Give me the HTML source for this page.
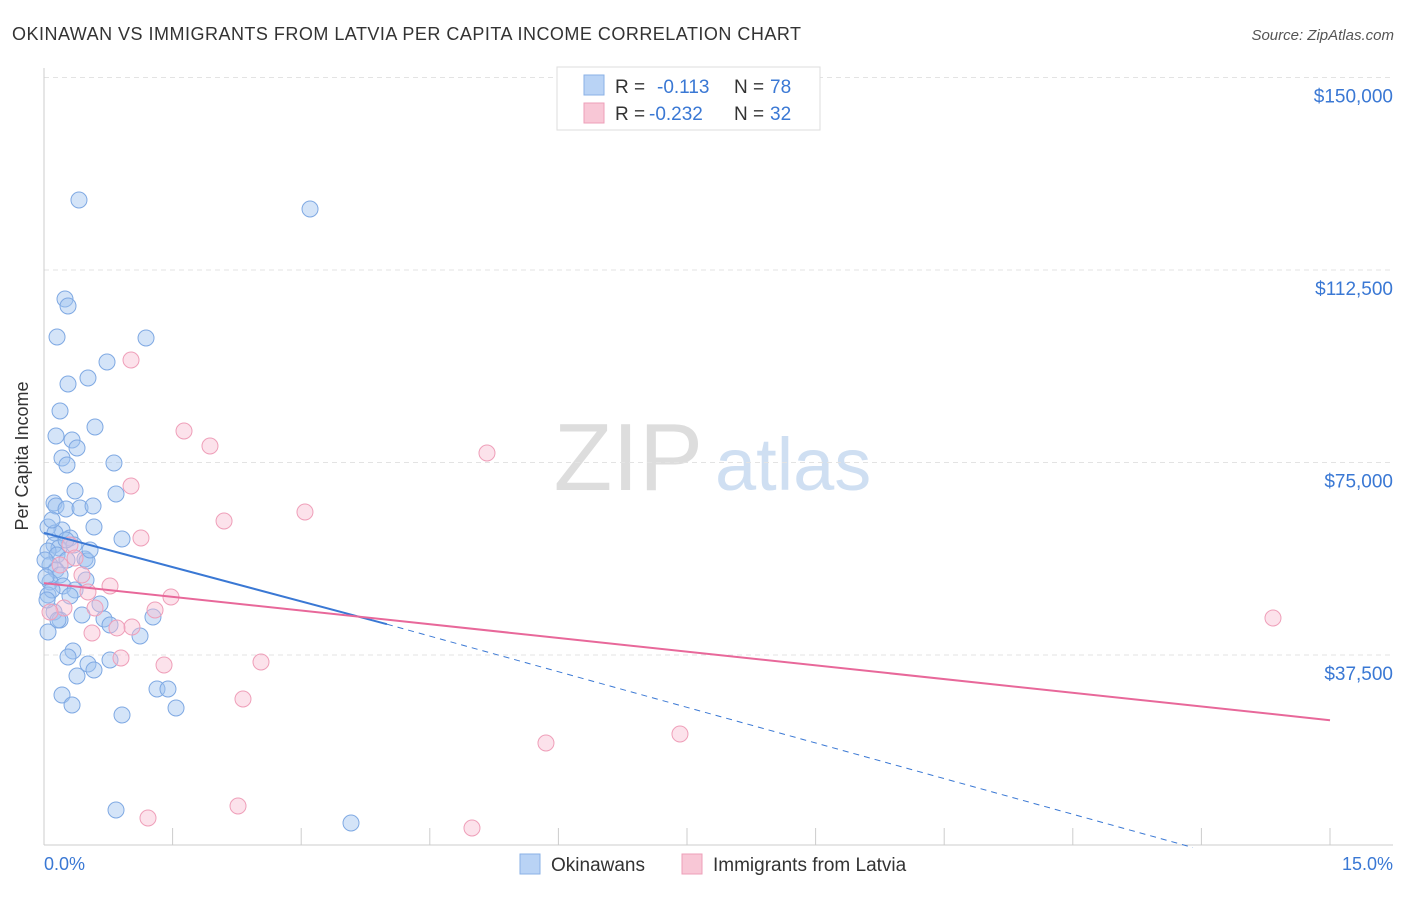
<!DOCTYPE html>
<html><head><meta charset="utf-8"><style>
body{margin:0;background:#fff;font-family:"Liberation Sans",sans-serif;}
svg text{font-family:"Liberation Sans",sans-serif;}
</style></head><body>
<svg id="c" width="1406" height="892" xmlns="http://www.w3.org/2000/svg">
<text x="12" y="40" font-size="18" fill="#333" textLength="789">OKINAWAN VS IMMIGRANTS FROM LATVIA PER CAPITA INCOME CORRELATION CHART</text>
<text x="1394" y="40" font-size="15" fill="#555" font-style="italic" text-anchor="end">Source: ZipAtlas.com</text>
<text x="703" y="490" font-size="96" fill="#ddd" text-anchor="end" font-family="Liberation Serif">ZIP</text>
<text x="715" y="490" font-size="74" fill="#cfdff2">atlas</text>
<g id="grid"></g>
<line x1="44" y1="68" x2="44" y2="845" stroke="#ccc"/>
<line x1="44" y1="845" x2="1393" y2="845" stroke="#ccc"/>
<text x="28" y="456" font-size="18" fill="#333" text-anchor="middle" transform="rotate(-90 28 456)">Per Capita Income</text>
<text x="44" y="870" font-size="18" fill="#3a78d4">0.0%</text>
<text x="1393" y="870" font-size="18" fill="#3a78d4" text-anchor="end">15.0%</text>
<g id="pts"></g>
<g id="trends"></g>
<g>
<rect x="557" y="67" width="263" height="63" fill="#fff" stroke="#ddd"/>
<rect x="584" y="75" width="20" height="20" fill="#b9d3f5" stroke="#8ab0e6"/>
<text x="615" y="93" font-size="19" fill="#333">R = </text><text x="657" y="93" font-size="19" fill="#3a78d4">-0.113</text>
<text x="734" y="93" font-size="19" fill="#333">N = </text><text x="770" y="93" font-size="19" fill="#3a78d4">78</text>
<rect x="584" y="103" width="20" height="20" fill="#f8c7d6" stroke="#ee9fb8"/>
<text x="615" y="120" font-size="19" fill="#333">R = </text><text x="649" y="120" font-size="19" fill="#3a78d4">-0.232</text>
<text x="734" y="120" font-size="19" fill="#333">N = </text><text x="770" y="120" font-size="19" fill="#3a78d4">32</text>
</g>
<g>
<rect x="520" y="854" width="20" height="20" fill="#b9d3f5" stroke="#8ab0e6"/>
<text x="551" y="871" font-size="19" fill="#333">Okinawans</text>
<rect x="682" y="854" width="20" height="20" fill="#f8c7d6" stroke="#ee9fb8"/>
<text x="713" y="871" font-size="19" fill="#333">Immigrants from Latvia</text>
</g>
</svg>
<script>
const yTicks=[37500,75000,112500,150000];
const yTickLabels=["$37,500","$75,000","$112,500","$150,000"];
const xTicks=[1.5,3,4.5,6,7.5,9,10.5,12,13.5,15];
const bluePx=[[79,200],[310,209],[65,299],[68,306],[57,337],[146,338],[107,362],[88,378],[68,384],[60,411],[95,427],[56,436],[72,440],[77,448],[62,458],[67,465],[114,463],[75,491],[116,494],[54,503],[56,506],[66,509],[80,508],[93,506],[94,527],[62,530],[48,527],[55,533],[70,538],[122,539],[54,545],[59,548],[74,545],[48,551],[57,555],[85,559],[87,561],[67,560],[50,565],[56,570],[60,575],[86,580],[50,582],[63,586],[75,590],[48,595],[100,604],[54,612],[82,615],[104,619],[60,620],[110,625],[153,617],[140,636],[48,632],[73,651],[68,657],[110,660],[88,664],[94,670],[77,676],[157,689],[168,689],[62,695],[72,705],[176,708],[122,715],[116,810],[351,823],[46,577],[52,590],[45,560],[47,600],[58,620],[90,550],[66,540],[52,520],[70,596]];
const pinkPx=[[131,360],[184,431],[210,446],[487,453],[131,486],[224,521],[305,512],[141,538],[70,545],[75,558],[60,565],[110,586],[88,592],[171,597],[155,610],[95,608],[64,608],[132,627],[117,628],[92,633],[121,658],[164,665],[261,662],[243,699],[546,743],[680,734],[1273,618],[238,806],[148,818],[472,828],[50,612],[82,575]];
const toX=p=>(p-44)/1286*15, toY=p=>(847.5-p)/192.5*37500;
const blueX=bluePx.map(p=>+toX(p[0]).toFixed(3)), blueY=bluePx.map(p=>Math.round(toY(p[1])));
const pinkX=pinkPx.map(p=>+toX(p[0]).toFixed(3)), pinkY=pinkPx.map(p=>Math.round(toY(p[1])));
const blueTrend=[[0,61300],[4.0,43500],[13.4,0]];
const pinkTrend=[[0,51500],[15,24800]];
const sx=v=>44+v/15*1286, sy=v=>847.5-v/37500*192.5;
const NS="http://www.w3.org/2000/svg";
function mk(t,a,p){const e=document.createElementNS(NS,t);for(const k in a)e.setAttribute(k,a[k]);p.appendChild(e);return e;}
const grid=document.getElementById('grid');
yTicks.forEach((v,i)=>{
 const l=mk('line',{x1:44,x2:1393,y1:sy(v),y2:sy(v),stroke:'#e3e3e3','stroke-dasharray':'5,4'},grid);
 
 
 const t=mk('text',{x:1393,y:sy(v)+25,'font-size':19,fill:'#3a78d4','text-anchor':'end'},grid);
 t.textContent=yTickLabels[i];
 
 
});
xTicks.forEach(v=>{
 const l=mk('line',{x1:sx(v),x2:sx(v),y1:828,y2:845,stroke:'#ccc'},grid);
 
 
});
const pts=document.getElementById('pts');
blueX.forEach((x,i)=>{
 const c=mk('circle',{cx:sx(x),cy:sy(blueY[i]),r:8,fill:'rgba(160,195,240,0.45)',stroke:'#7fa9e3','stroke-width':1},pts);
 
 
});
pinkX.forEach((x,i)=>{
 const c=mk('circle',{cx:sx(x),cy:sy(pinkY[i]),r:8,fill:'rgba(248,190,210,0.45)',stroke:'#ef9fb9','stroke-width':1},pts);
 
 
});
const tr=document.getElementById('trends');
let l=mk('line',{x1:sx(blueTrend[0][0]),y1:sy(blueTrend[0][1]),x2:sx(blueTrend[1][0]),y2:sy(blueTrend[1][1]),stroke:'#3a78d4','stroke-width':2},tr);


l=mk('line',{x1:sx(blueTrend[1][0]),y1:sy(blueTrend[1][1]),x2:sx(blueTrend[2][0]),y2:sy(blueTrend[2][1]),stroke:'#3a78d4','stroke-width':1,'stroke-dasharray':'6,5'},tr);


l=mk('line',{x1:sx(pinkTrend[0][0]),y1:sy(pinkTrend[0][1]),x2:sx(pinkTrend[1][0]),y2:sy(pinkTrend[1][1]),stroke:'#e8689a','stroke-width':2},tr);


</script>
</body></html>
